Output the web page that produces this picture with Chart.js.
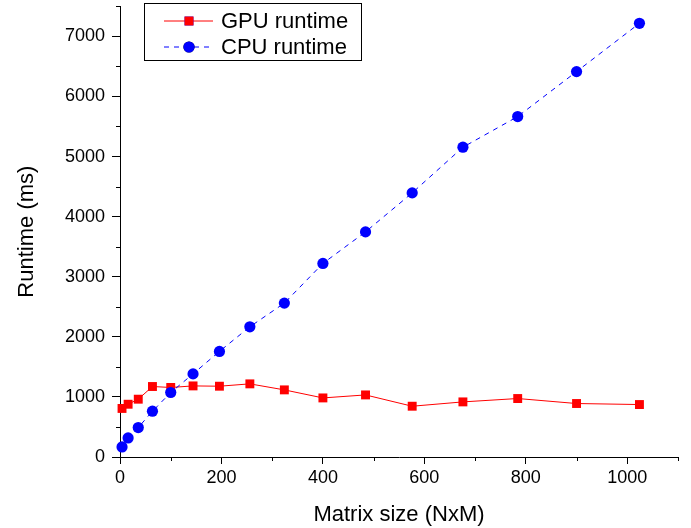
<!DOCTYPE html>
<html>
<head>
<meta charset="utf-8">
<script src="https://cdn.jsdelivr.net/npm/chart.js@4"></script>
<style>
  html, body { margin: 0; padding: 0; background: #fff; }
  #wrap { width: 691px; height: 528px; }
</style>
</head>
<body>
<div id="wrap"><canvas id="runtimeChart" width="691" height="528"></canvas></div>
<script>
// matrix sizes (N*M) and measured runtimes in ms
const matrixSize = [4, 16, 36, 64, 100, 144, 196, 256, 324, 400, 484, 576, 676, 784, 900, 1024];
const gpuRuntime = [808, 878, 962, 1173, 1157, 1183, 1178, 1217, 1117, 983, 1033, 845, 917, 973, 890, 873];
const cpuRuntime = [167, 317, 490, 762, 1073, 1383, 1757, 2167, 2561, 3221, 3746, 4395, 5155, 5665, 6413, 7217];
const seriesNames = ['GPU runtime', 'CPU runtime'];

const FONT = 'Liberation Sans, Arial, Helvetica, sans-serif';
const MINOR_LEN = 4;

function toPoints(xs, ys) {
    return xs.map((x, i) => ({ x: x, y: ys[i] }));
}

function isMajorX(v) { return v % 200 === 0 && v <= 1000; }
function isMajorY(v) { return v % 1000 === 0; }

// short minor ticks (Chart.js only does one tick length)
const minorTicks = {
    id: 'minorTicks',
    afterDraw(chart) {
        const ctx = chart.ctx;
        const xs = chart.scales.x, ys = chart.scales.y;
        ctx.save();
        ctx.strokeStyle = '#000';
        ctx.lineWidth = 1;
        ctx.beginPath();
        xs.ticks.forEach(t => {
            if (isMajorX(t.value)) return;
            const px = Math.round(xs.getPixelForValue(t.value)) + 0.5;
            ctx.moveTo(px, xs.top);
            ctx.lineTo(px, xs.top + MINOR_LEN);
        });
        ys.ticks.forEach(t => {
            if (isMajorY(t.value)) return;
            const py = Math.round(ys.getPixelForValue(t.value)) + 0.5;
            ctx.moveTo(ys.right, py);
            ctx.lineTo(ys.right - MINOR_LEN, py);
        });
        ctx.stroke();
        ctx.restore();
    }
};

// legend in a framed box, like the original plot
const boxLegend = {
    id: 'boxLegend',
    afterDraw(chart) {
        const ctx = chart.ctx;
        ctx.save();
        ctx.strokeStyle = '#000';
        ctx.lineWidth = 1;
        ctx.strokeRect(144.5, 3.5, 217, 57);
        const rows = [21, 47];
        chart.data.datasets.forEach((ds, i) => {
            const y = rows[i];
            ctx.beginPath();
            ctx.strokeStyle = ds.borderColor;
            ctx.lineWidth = ds.borderWidth;
            ctx.setLineDash(ds.borderDash || []);
            ctx.moveTo(164, y);
            ctx.lineTo(213, y);
            ctx.stroke();
            ctx.setLineDash([]);
            Chart.helpers.drawPoint(ctx, {
                pointStyle: ds.pointStyle,
                radius: ds.pointRadius,
                borderWidth: 0
            }, 189, y);
            ctx.fillStyle = ds.pointBackgroundColor;
            ctx.fill();
            ctx.fillStyle = '#000';
            ctx.font = '22px ' + FONT;
            ctx.textBaseline = 'middle';
            ctx.textAlign = 'left';
            ctx.fillText(ds.label, 221, y + 1);
        });
        ctx.restore();
    }
};

const ctx = document.getElementById('runtimeChart').getContext('2d');
const runtimeChart = new Chart(ctx, {
    type: 'scatter',
    data: {
        datasets: [{
            label: seriesNames[0],
            data: toPoints(matrixSize, gpuRuntime),
            showLine: true,
            borderColor: '#ff0000',
            borderWidth: 1,
            pointStyle: 'rect',
            pointRadius: 6.3,
            pointBackgroundColor: '#ff0000',
            pointBorderWidth: 0,
            clip: false,
            order: 2
        }, {
            label: seriesNames[1],
            data: toPoints(matrixSize, cpuRuntime),
            showLine: true,
            borderColor: '#0000ff',
            borderWidth: 1,
            borderDash: [5, 5],
            pointStyle: 'circle',
            pointRadius: 5.6,
            pointBackgroundColor: '#0000ff',
            pointBorderWidth: 0,
            clip: false,
            order: 1
        }]
    },
    options: {
        responsive: false,
        animation: false,
        layout: {
            padding: { left: 0, right: 13, top: 5, bottom: 0 }
        },
        plugins: {
            legend: { display: false },
            tooltip: { enabled: false }
        },
        scales: {
            x: {
                type: 'linear',
                min: 0,
                max: 1100,
                afterFit: s => { s.height = 71; s.paddingLeft = 0; s.paddingRight = 0; },
                border: { display: true, color: '#000', width: 1 },
                grid: {
                    drawOnChartArea: false,
                    drawTicks: true,
                    tickLength: 7,
                    tickColor: c => isMajorX(c.tick.value) ? '#000' : 'rgba(0,0,0,0)'
                },
                ticks: {
                    stepSize: 100,
                    autoSkip: false,
                    maxRotation: 0,
                    color: '#000',
                    padding: 3,
                    font: { family: FONT, size: 18 },
                    callback: v => isMajorX(v) ? String(v) : ''
                },
                title: {
                    display: true,
                    text: 'Matrix size (NxM)',
                    color: '#000',
                    font: { family: FONT, size: 22 },
                    padding: { top: 0, bottom: 0 }
                }
            },
            y: {
                type: 'linear',
                min: 0,
                max: 7500,
                afterFit: s => { s.width = 120; s.paddingTop = 0; s.paddingBottom = 0; },
                border: { display: true, color: '#000', width: 1 },
                grid: {
                    drawOnChartArea: false,
                    drawTicks: true,
                    tickLength: 8,
                    tickColor: c => isMajorY(c.tick.value) ? '#000' : 'rgba(0,0,0,0)'
                },
                ticks: {
                    stepSize: 500,
                    autoSkip: false,
                    color: '#000',
                    padding: 7,
                    font: { family: FONT, size: 18 },
                    callback: v => isMajorY(v) ? String(v) : ''
                },
                title: {
                    display: true,
                    text: 'Runtime (ms)',
                    color: '#000',
                    font: { family: FONT, size: 22 },
                    padding: { top: 14, bottom: 0 }
                }
            }
        }
    },
    plugins: [minorTicks, boxLegend]
});
</script>
</body>
</html>
